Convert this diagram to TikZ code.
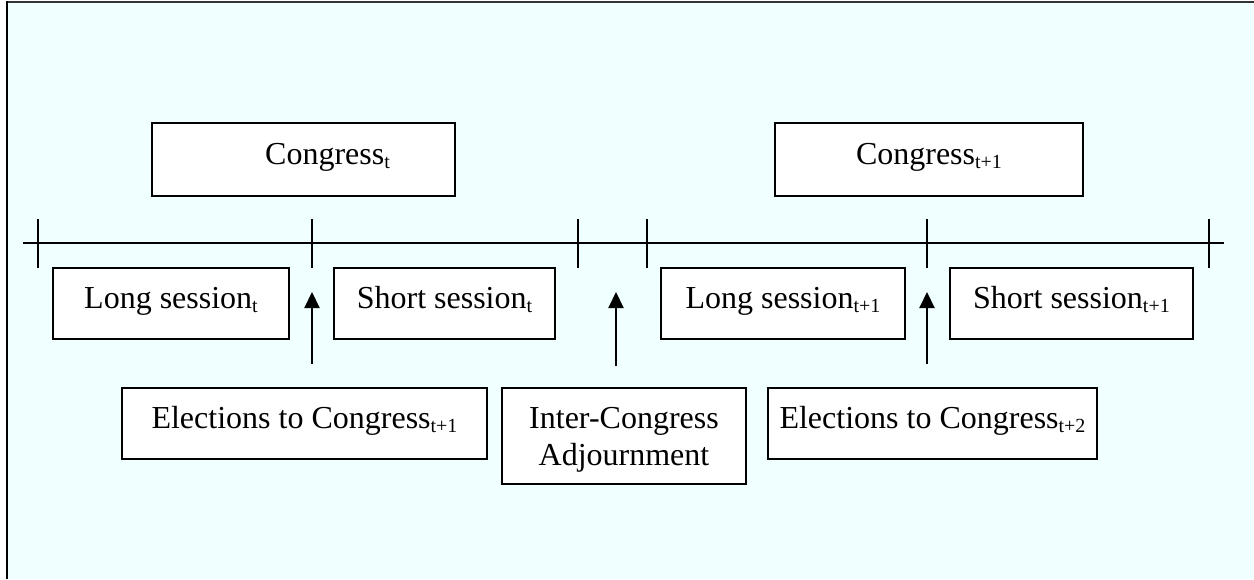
\documentclass[tikz,border=0pt]{standalone}
\usepackage{fontspec}
\setmainfont{Liberation Serif}
\usetikzlibrary{arrows.meta}
\definecolor{bgc}{RGB}{240,255,255}
\newcommand{\sbs}[1]{\raisebox{-4pt}{\fontsize{20}{20}\selectfont #1}}
\tikzset{
  frame/.style={line width=2.4pt, draw=black},
  tl/.style={line width=2.1pt},
  bx/.style={draw, line width=2.1pt, fill=white, inner sep=0pt, font=\fontsize{32}{37}\selectfont},
  sbx/.style={bx, text height=20pt, text depth=10pt},
  arr/.style={line width=2.1pt, -{Triangle[length=16pt,width=15pt]}}
}
\begin{document}
\begin{tikzpicture}[x=1pt,y=-1pt]
\useasboundingbox (0,0) rectangle (1254,579);
\fill[bgc] (7,2) rectangle (1254,579);
\draw[line width=1.6pt, draw=black!80] (7,2) -- (1254,2);
\draw[frame] (7,1) -- (7,579);
% timeline
\coordinate (tA) at (23,243);
\coordinate (tB) at (1224,243);
\draw[tl] (tA) -- (tB);
\foreach \x in {38,312,578,647,927,1209}
  \draw[tl] (\x,219) -- (\x,268);
% boxes
\node[sbx, minimum width=303pt, minimum height=73pt] (ct) at (303.5,159.5) {\hspace*{48pt}Congress\sbs{t}};
\node[sbx, minimum width=308pt, minimum height=73pt] (ct1) at (929,159.5) {Congress\sbs{t+1}};
\node[sbx, minimum width=236pt, minimum height=71pt] (ls) at (171,303.5) {Long session\sbs{t}};
\node[sbx, minimum width=221pt, minimum height=71pt] (ss) at (444.5,303.5) {Short session\sbs{t}};
\node[sbx, minimum width=244pt, minimum height=71pt] (ls1) at (783,303.5) {Long session\sbs{t+1}};
\node[sbx, minimum width=243pt, minimum height=71pt] (ss1) at (1071.5,303.5) {Short session\sbs{t+1}};
\node[sbx, minimum width=365pt, minimum height=71pt] (el1) at (304.5,423.5) {Elections to Congress\sbs{t+1}};
\node[bx, align=center, text depth=0pt, minimum width=244pt, minimum height=96pt] (ic) at (624,436) {Inter-Congress\\Adjournment};
\node[sbx, minimum width=329pt, minimum height=71pt] (el2) at (932.5,423.5) {Elections to Congress\sbs{t+2}};
% arrows
\coordinate (a1s) at (312,364); \coordinate (a1e) at (312,292);
\coordinate (a2s) at (616,366); \coordinate (a2e) at (616,292);
\coordinate (a3s) at (927,364); \coordinate (a3e) at (927,292);
\draw[arr] (a1s) -- (a1e);
\draw[arr] (a2s) -- (a2e);
\draw[arr] (a3s) -- (a3e);
\end{tikzpicture}
\end{document}
